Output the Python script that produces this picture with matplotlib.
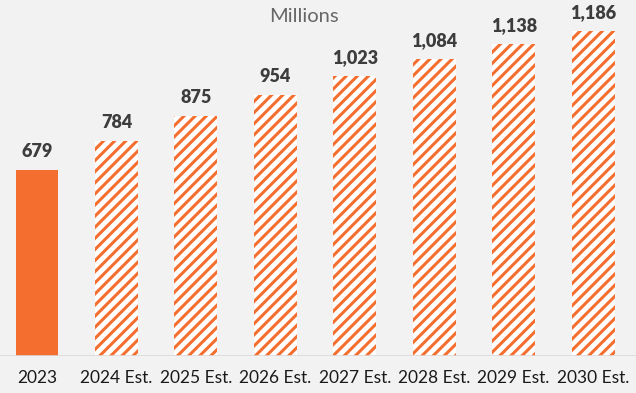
import matplotlib.pyplot as plt
import numpy as np

years = ['2023', '2024 Est.', '2025 Est.', '2026 Est.', '2027 Est.',
         '2028 Est.', '2029 Est.', '2030 Est.']
values = [679, 784, 875, 954, 1023, 1084, 1138, 1186]
labels = ['679', '784', '875', '954', '1,023', '1,084', '1,138', '1,186']

orange = '#F46E2F'
bg = '#F2F2F2'

plt.rcParams['font.family'] = ['Lato', 'DejaVu Sans']
plt.rcParams['hatch.linewidth'] = 2.2
plt.rcParams['hatch.color'] = orange

fig = plt.figure(figsize=(6.36, 3.93), dpi=100, facecolor=bg)
ax = fig.add_axes([0, 37 / 393, 1, 356 / 393])
ax.set_facecolor(bg)

x = np.arange(len(years))
for i, v in enumerate(values):
    if i == 0:
        ax.bar(x[i], v, width=0.54, color=orange, linewidth=0)
    else:
        ax.bar(x[i], v, width=0.54, facecolor='white', edgecolor=orange,
               hatch='///', linewidth=0)
    ax.text(x[i], v + 36, labels[i], ha='center', va='bottom',
            fontsize=13, fontweight='heavy', color='#3d3d3d')

ax.set_xlim(-0.466, 7.54)
ax.set_ylim(0, 1299)
ax.axhline(0, color='#D9D9D9', linewidth=1.2)
ax.set_xticks(x)
ax.set_xticklabels(years, fontsize=12.5, color='#1a1a1a')
ax.tick_params(axis='x', length=0, pad=10)
ax.set_yticks([])
for s in ax.spines.values():
    s.set_visible(False)

fig.text(304 / 636, 1 - 16 / 393, 'Millions', ha='center', va='center',
         fontsize=14.5, color='#666666')

fig.savefig('out.png', dpi=100, facecolor=bg)
